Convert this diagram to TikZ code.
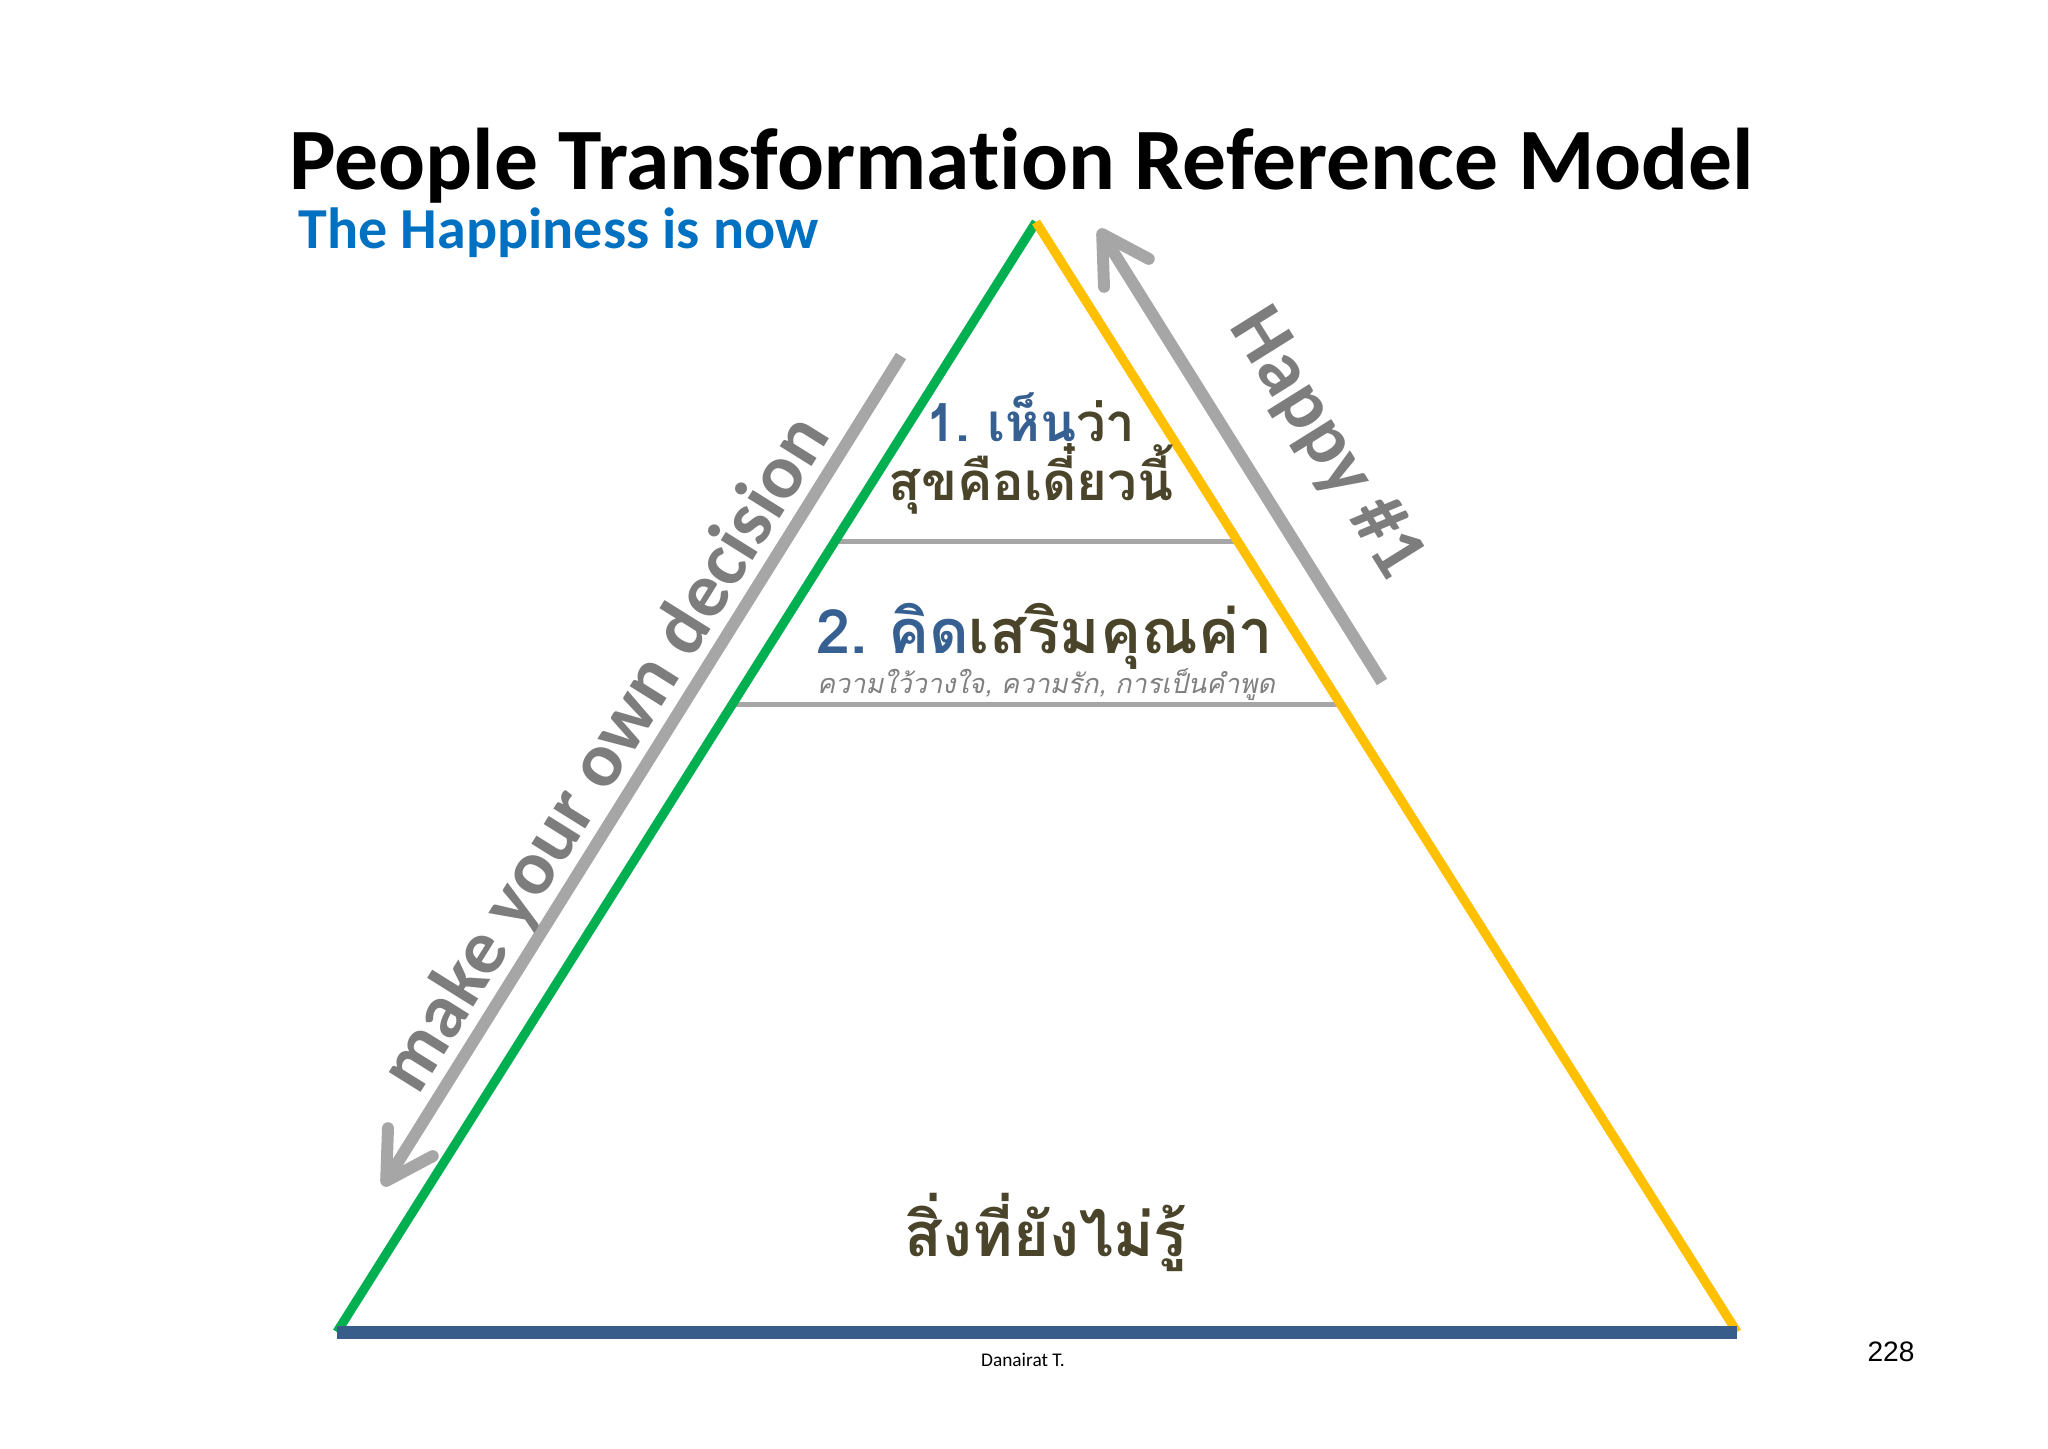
\documentclass[tikz,border=0pt]{standalone}
\usepackage{fontspec}
\setmainfont{Carlito}[Ligatures=NoCommon]
\newfontfamily\thaifont[Script=Thai]{Loma}
\newfontfamily\pagefont{Liberation Sans}
\usetikzlibrary{arrows.meta,calc}
\definecolor{headBlue}{RGB}{0,112,192}
\definecolor{levelBlue}{RGB}{55,96,146}
\definecolor{levelOlive}{RGB}{74,69,42}
\definecolor{sideGreen}{RGB}{0,176,80}
\definecolor{sideYellow}{RGB}{255,192,0}
\definecolor{baseBlue}{RGB}{56,93,138}
\definecolor{arrowGray}{RGB}{166,166,166}
\definecolor{wordGray}{RGB}{125,125,125}
\tikzset{
  bigArrow/.style={arrowGray, line width=3.4pt, -{Straight Barb[length=13pt, width=15pt, round]}},
  levelLine/.style={arrowGray, line width=1.4pt},
  thaiText/.style={inner sep=0pt, anchor=base, text=levelOlive, font=\thaifont\bfseries\fontsize{#1}{#1}\selectfont},
  wordLabel/.style={inner sep=0pt, text=wordGray, font=\bfseries\fontsize{22}{24}\selectfont},
}

\begin{document}
\begin{tikzpicture}[x=0.01cm, y=-0.01cm]
    \useasboundingbox (0,0) rectangle (2048,1448);
    % heading
    \node[inner sep=0pt, anchor=base, font=\bfseries\fontsize{24.9}{28}\selectfont] (title) at (1022,189) {People Transformation Reference Model};
    \node[inner sep=0pt, anchor=base west, text=headBlue, font=\bfseries\fontsize{16.5}{20}\selectfont] (subtitle) at (298,248) {The Happiness is now};
    % pyramid
    \coordinate (apex) at (1036,222);
    \coordinate (baseL) at (337,1332);
    \coordinate (baseR) at (1737,1332);
    \draw[levelLine] ($(apex)!0.288!(baseL)$) -- ($(apex)!0.288!(baseR)$);
    \draw[levelLine] ($(apex)!0.435!(baseL)$) -- ($(apex)!0.435!(baseR)$);
    \draw[sideGreen, line width=2.6pt] (apex) -- (baseL);
    \draw[sideYellow, line width=2.6pt] (apex) -- (baseR);
    \draw[baseBlue, line width=3.7pt] (baseL) -- (baseR);
    % levels
    \node[thaiText=15] (seeNow) at (1031,441) {\textcolor{levelBlue}{1.\hspace{-2pt} เห็น}ว่า};
    \node[thaiText=15] (nowLine) at (1031,500) {สุขคือเดี๋ยวนี้};
    \node[thaiText=17.4] (thinkValue) at (1045,653) {\textcolor{levelBlue}{2.\hspace{-2pt} คิด}เสริมคุณค่า};
    \node[inner sep=0pt, anchor=base, text=gray, font=\thaifont\itshape\fontsize{7.7}{9}\selectfont] (valueNote) at (1046,693) {ความใว้วางใจ, ความรัก, การเป็นคำพูด};
    \node[thaiText=17.5] (unknownBase) at (1046,1256) {สิ่งที่ยังไม่รู้};
    % side arrows
    \coordinate (decTop) at (901,356);
    \coordinate (decTip) at (383,1186);
    \draw[bigArrow] (decTop) -- (decTip);
    \coordinate (happyLow) at (1382,682);
    \coordinate (happyTip) at (1099,229);
    \draw[bigArrow] (happyLow) -- (happyTip);
    \node[wordLabel, rotate=58] (decision) at (607,755) {make your own decision};
    \node[wordLabel, rotate=-58] (happy) at (1326,444) {Happy \#1};
    % footer
    \node[inner sep=0pt, anchor=base, font=\fontsize{5.5}{6}\selectfont] (author) at (1023,1366) {Danairat T.};
    \node[inner sep=0pt, anchor=base, font=\pagefont\fontsize{8}{9}\selectfont] (pageNo) at (1891,1361) {228};
\end{tikzpicture}
\end{document}
